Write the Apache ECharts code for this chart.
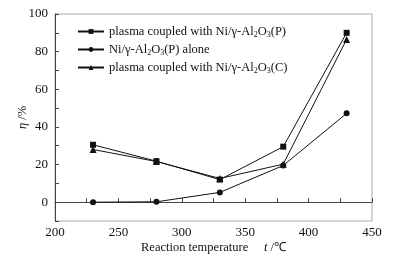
<!DOCTYPE html>
<html>
<head>
<meta charset="utf-8">
<script src="https://cdn.jsdelivr.net/npm/echarts@6/dist/echarts.min.js"></script>
<style>
    html, body {margin: 0; padding: 0; background: #fff;}
    #chart {width: 397px; height: 260px;}
</style>
</head>
<body>
<div id="chart"></div>
<script>
var temps = [230, 280, 330, 380, 430];
var plasmaP = [30.5, 21.8, 12, 29.5, 90];       //plasma + Ni/γ-Al2O3(P)
var aloneP = [0, 0.2, 5.2, 19.5, 47.2];         //Ni/γ-Al2O3(P) alone
var plasmaC = [28, 21.6, 12.6, 20.2, 86.5];     //plasma + Ni/γ-Al2O3(C)
var xTicks = [200, 250, 300, 350, 400, 450];
var yTicks = [0, 20, 40, 60, 80, 100];

var names = ['plasmaP', 'aloneP', 'plasmaC'];
var legendText = {
    plasmaP: '{a|plasma coupled with Ni/γ-Al}{s|2}{a|O}{s|3}{a|(P)}',
    aloneP: '{a|Ni/γ-Al}{s|2}{a|O}{s|3}{a|(P) alone}',
    plasmaC: '{a|plasma coupled with Ni/γ-Al}{s|2}{a|O}{s|3}{a|(C)}'
};

function pairs(arr) {
    var out = [];
    for (var i = 0; i < temps.length; i++) {
        out.push([temps[i], arr[i]]);
    }
    return out;
}

var font = '"Liberation Serif", "Times New Roman", serif';
var mychart = echarts.init(document.getElementById('chart'));
var option = {
    animation: false,
    textStyle: {fontFamily: font},
    grid: {
        left: 55, right: 25, top: 14, bottom: 39,
        outerBoundsMode: 'none',
        show: true, borderColor: '#aaa', borderWidth: 1
    },
    legend: {
        left: 72,
        top: 20,
        orient: 'vertical',
        itemGap: 4,
        itemWidth: 26,
        itemHeight: 6,
        data: names,
        formatter: function (n) { return legendText[n]; },
        textStyle: {
            color: '#111',
            fontFamily: font,
            fontSize: 12.5,
            rich: {
                a: {fontFamily: font, fontSize: 12.5, color: '#111', lineHeight: 15},
                s: {fontFamily: font, fontSize: 8, color: '#111', verticalAlign: 'bottom', lineHeight: 11}
            }
        }
    },
    xAxis: {
        type: 'value',
        min: 200,
        max: 450,
        interval: 50,
        name: '{a|Reaction temperature     }{i|t}{a| /℃}',
        nameLocation: 'middle',
        nameGap: 20,
        nameMoveOverlap: false,
        nameTextStyle: {
            rich: {
                a: {fontFamily: font, fontSize: 12.5, color: '#111'},
                i: {fontFamily: font, fontSize: 12.5, color: '#111', fontStyle: 'italic'}
            }
        },
        axisLine: {lineStyle: {color: '#444'}},
        axisTick: {inside: true, length: 4, lineStyle: {color: '#444'}},
        minorTick: {show: true, splitNumber: 2, length: 4, lineStyle: {color: '#444'}},
        splitLine: {show: false},
        axisLabel: {fontFamily: font, fontSize: 13, color: '#111', margin: 5}
    },
    yAxis: {
        type: 'value',
        min: -10,
        max: 100,
        interval: 10,
        name: '{i|η}{a| /%}',
        nameLocation: 'middle',
        nameGap: 26,
        nameMoveOverlap: false,
        nameTextStyle: {
            rich: {
                a: {fontFamily: font, fontSize: 12.5, color: '#111'},
                i: {fontFamily: font, fontSize: 12.5, color: '#111', fontStyle: 'italic'}
            }
        },
        axisLine: {show: true, lineStyle: {color: '#444'}},
        axisTick: {inside: true, length: 4, lineStyle: {color: '#444'}},
        splitLine: {show: false},
        axisLabel: {
            fontFamily: font, fontSize: 13, color: '#111', margin: 7,
            formatter: function (v) { return yTicks.indexOf(v) >= 0 ? v : ''; }
        }
    },
    series: [
        {
            name: 'plasmaP', type: 'line', data: pairs(plasmaP),
            symbol: 'rect', symbolSize: 6,
            lineStyle: {color: '#111', width: 1}, itemStyle: {color: '#111'}
        },
        {
            name: 'aloneP', type: 'line', data: pairs(aloneP),
            symbol: 'circle', symbolSize: 6,
            lineStyle: {color: '#111', width: 1}, itemStyle: {color: '#111'}
        },
        {
            name: 'plasmaC', type: 'line', data: pairs(plasmaC),
            symbol: 'triangle', symbolSize: 7,
            lineStyle: {color: '#111', width: 1}, itemStyle: {color: '#111'}
        }
    ]
};
mychart.setOption(option);
</script>
</body>
</html>
